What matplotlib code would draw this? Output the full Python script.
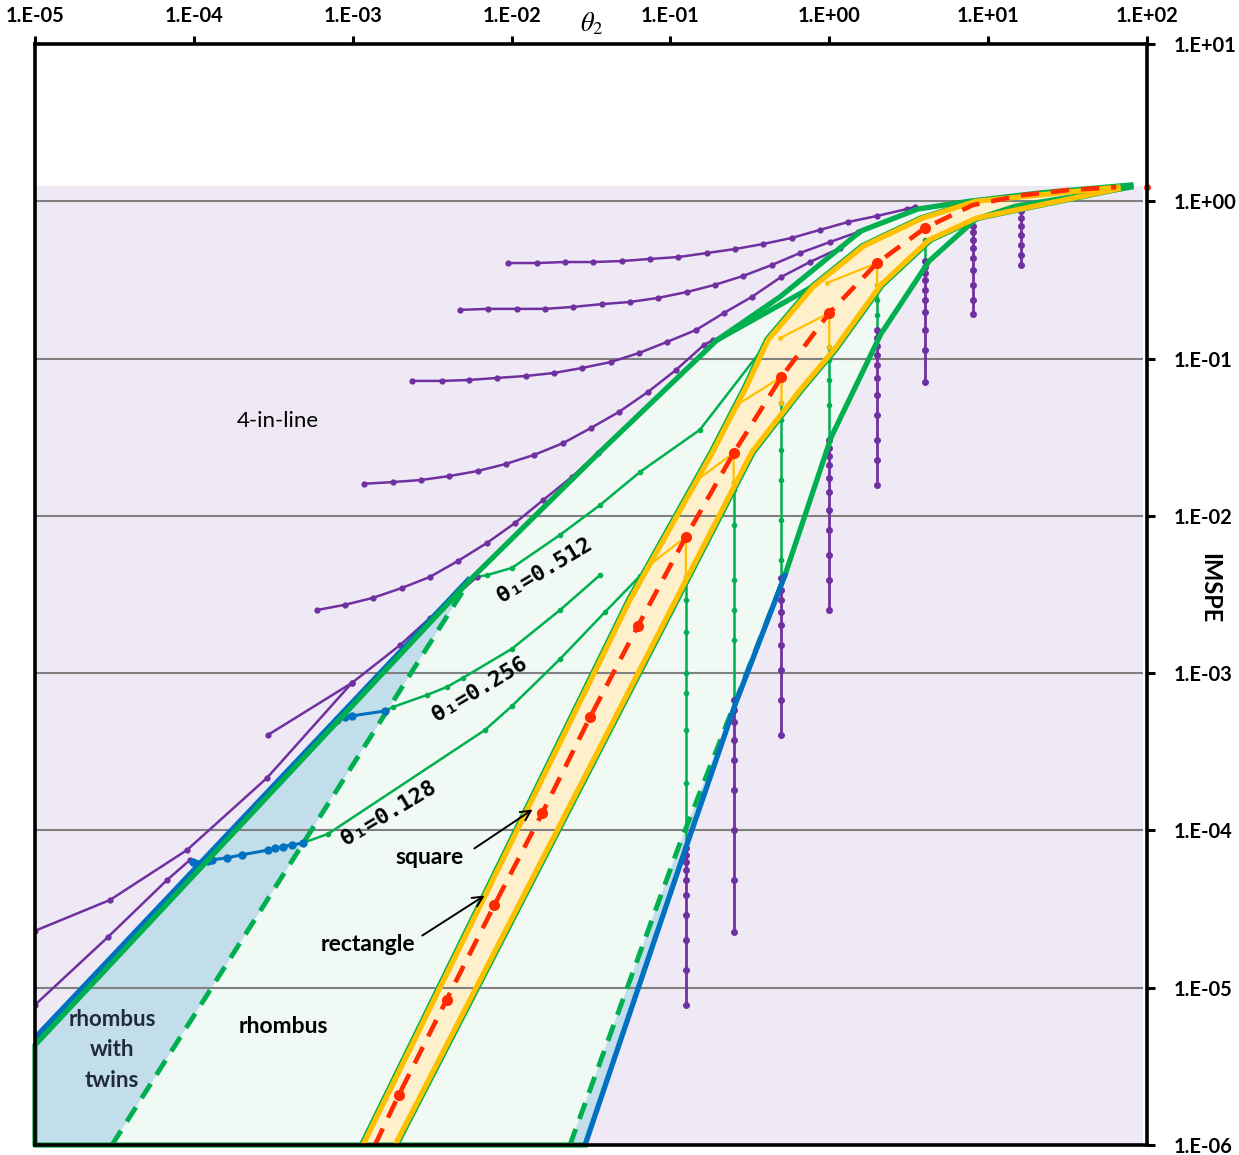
import numpy as np
import matplotlib
matplotlib.use("Agg")
import matplotlib.pyplot as plt
from matplotlib.ticker import FixedLocator, FuncFormatter, NullLocator
from matplotlib.transforms import offset_copy

plt.rcParams.update({
    "font.family": ["Lato", "DejaVu Sans"],
    "mathtext.fontset": "stix",
})

PURPLE = "#7030A0"
GREEN = "#00B050"
BLUE = "#0070C0"
ORANGE = "#FFC000"
RED = "#FF2A00"
BG = "#EFE9F5"
MINT = "#F0F9F4"
LBLUE = "#C3DEEB"
BAND = "#FFF0CC"
GRID = "#808080"

# ── region limits ─────────────────────────────────────────────
bg_x = [1e-5, 94.0]
bg_top = 1.25
ymin = 1e-6

# ── envelope lines (theta2, IMSPE) ────────────────────────────
upper_x = [0.029, 1e-5, 1e-5, 5.47e-3, 0.036, 0.196, 0.49, 1.58, 3.61, 7.57, 21.2, 79.3]
upper_y = [1e-6, 1e-6, 4.32e-6, 3.91e-3, 0.0255, 0.131, 0.247, 0.647, 0.893, 1.0, 1.13, 1.27]

# short extra boundary branch
branch_x = [0.196, 0.757]
branch_y = [0.131, 0.281]

right_green_x = [0.526, 1.03, 2.11, 4.25, 8.37, 15.0, 79.3]
right_green_y = [4.2e-3, 0.0318, 0.143, 0.417, 0.771, 0.933, 1.23]

right_blue_x = [0.029, 0.125, 0.255, 0.526]
right_blue_y = [1e-6, 7.75e-5, 6.28e-4, 4.2e-3]

left_blue_x = [1e-5, 5.47e-3]
left_blue_y = [4.8e-6, 4.03e-3]

dash_left_x = [3.05e-5, 5.47e-3]
dash_left_y = [1e-6, 3.91e-3]

dash_right_x = [0.0233, 0.112, 0.526]
dash_right_y = [1e-6, 7.75e-5, 4.2e-3]

# ── square / rectangle band ───────────────────────────────────
band_left_x = [1.16e-3, 0.0556, 0.183, 0.30, 0.411, 0.789, 1.65, 3.84, 8.37, 65.6]
band_left_y = [1e-6, 2.92e-3, 0.0251, 0.066, 0.131, 0.285, 0.52, 0.78, 1.0, 1.23]
band_right_x = [1.85e-3, 0.326, 0.654, 1.08, 2.11, 4.25, 8.37, 65.6]
band_right_y = [1e-6, 0.0255, 0.063, 0.115, 0.294, 0.568, 0.78, 1.2]

square_x = [1.38e-3, 0.00195, 0.0039, 0.0078, 0.0156, 0.03125, 0.0625, 0.125,
            0.25, 0.5, 1.0, 2.0, 4.0, 8.0, 16.0, 32.0, 64.0]
square_y = [1e-6, 2.08e-6, 8.4e-6, 3.36e-5, 1.29e-4, 5.27e-4, 2.0e-3, 7.34e-3,
            0.0251, 0.0764, 0.195, 0.405, 0.676, 0.946, 1.09, 1.18, 1.23]
square_dot_x = square_x[1:13]
square_dot_y = square_y[1:13]
square_end = (100.0, 1.23)

zig_x = [[0.0711, 0.125, 0.125], [0.147, 0.25, 0.25], [0.262, 0.5, 0.5],
         [0.49, 1.0, 1.0], [0.97, 2.0, 2.0]]
zig_y = [[4.73e-3, 7.34e-3, 4.09e-3], [0.0169, 0.0251, 0.0162], [0.0507, 0.0764, 0.0523],
         [0.135, 0.195, 0.119], [0.303, 0.405, 0.294]]

# ── theta1 curves ─────────────────────────────────────────────
t128_blue_x = [9.9e-5, 1.23e-4, 1.30e-4, 1.62e-4, 2.01e-4, 2.93e-4, 3.24e-4, 3.64e-4, 4.15e-4, 4.86e-4]
t128_blue_y = [6.3e-5, 6.4e-5, 6.5e-5, 6.7e-5, 7.0e-5, 7.5e-5, 7.7e-5, 7.9e-5, 8.1e-5, 8.3e-5]
t256_blue_x = [7.96e-4, 8.94e-4, 9.89e-4, 1.6e-3]
t256_blue_y = [5.04e-4, 5.27e-4, 5.35e-4, 5.75e-4]

t128_x = [4.86e-4, 6.98e-4, 6.8e-3, 0.01007, 0.0202, 0.0388, 0.0643]
t128_y = [8.33e-5, 9.5e-5, 4.35e-4, 6.19e-4, 1.23e-3, 2.45e-3, 4.15e-3]
t256_x = [1.6e-3, 1.79e-3, 2.94e-3, 3.92e-3, 4.94e-3, 0.01007, 0.0202, 0.036]
t256_y = [5.75e-4, 6.09e-4, 7.27e-4, 8.17e-4, 9.33e-4, 1.43e-3, 2.52e-3, 4.2e-3]
t512_x = [6.05e-3, 7.0e-3, 0.01007, 0.0202, 0.036, 0.0643, 0.153, 0.366]
t512_y = [4.09e-3, 4.2e-3, 4.67e-3, 7.57e-3, 0.0117, 0.019, 0.0352, 0.110]

# ── 4-in-line curves ──────────────────────────────────────────
line_a_x = [9.49e-3, 0.01445, 0.0217, 0.0326, 0.0496, 0.0743, 0.1117, 0.170, 0.255,
            0.383, 0.581, 0.873, 1.31, 2.0, 3.08, 3.46]
line_a_y = [0.405, 0.405, 0.411, 0.411, 0.417, 0.430, 0.442, 0.469, 0.497,
            0.535, 0.585, 0.658, 0.738, 0.807, 0.893, 0.920]
line_b_x = [4.73e-3, 7.11e-3, 0.0108, 0.0162, 0.0244, 0.0371, 0.0556, 0.0835, 0.127,
            0.19, 0.286, 0.436, 0.654, 1.01, 1.52]
line_b_y = [0.204, 0.207, 0.207, 0.207, 0.213, 0.222, 0.229, 0.243, 0.265,
            0.294, 0.335, 0.394, 0.469, 0.551, 0.638]
line_c_x = [2.36e-3, 3.65e-3, 5.39e-3, 8.09e-3, 0.0123, 0.0185, 0.0277, 0.0422, 0.0634,
            0.0951, 0.145, 0.217, 0.326, 0.497, 0.755, 1.17]
line_c_y = [0.0721, 0.0721, 0.0731, 0.0753, 0.0775, 0.0810, 0.0871, 0.0951, 0.1085,
            0.1276, 0.152, 0.195, 0.247, 0.330, 0.411, 0.505]
line_d_x = [1.18e-3, 1.79e-3, 2.69e-3, 4.04e-3, 6.15e-3, 9.23e-3, 0.01384, 0.0211, 0.0316,
            0.0474, 0.0723, 0.1084, 0.1625, 0.185]
line_d_y = [0.0160, 0.0164, 0.0169, 0.0179, 0.0193, 0.0214, 0.0244, 0.0290, 0.0362,
            0.0458, 0.0614, 0.0847, 0.122, 0.131]
line_e_x = [5.96e-4, 8.94e-4, 1.34e-3, 2.04e-3, 3.06e-3, 4.6e-3, 7.0e-3, 0.0105, 0.0158, 0.024, 0.035]
line_e_y = [2.52e-3, 2.72e-3, 3.01e-3, 3.48e-3, 4.09e-3, 5.17e-3, 6.73e-3, 9.0e-3, 0.0126, 0.0177, 0.0251]
line_f_x = [2.93e-4, 9.89e-4]
line_f_y = [4.05e-4, 8.67e-4]
line_g_x = [1e-5, 2.96e-5, 9.06e-5, 2.89e-4, 9.89e-4, 1.99e-3, 3.06e-3, 6.05e-3]
line_g_y = [2.3e-5, 3.61e-5, 7.51e-5, 2.16e-4, 8.67e-4, 1.51e-3, 2.24e-3, 4.09e-3]
line_h_x = [1e-5, 2.88e-5, 6.78e-5, 9.46e-5]
line_h_y = [7.78e-6, 2.1e-5, 4.84e-5, 6.49e-5]

# ── vertical sections at fixed theta2 ─────────────────────────
vert_theta2 = [0.125, 0.25, 0.5, 1.0, 2.0, 4.0, 8.0, 16.0]
vert_green = [
    [4.09e-3, 3.91e-3, 2.92e-3, 1.83e-3, 1.0e-3, 7.48e-4, 4.35e-4, 2.0e-4, 7.75e-5],
    [0.0162, 0.0146, 8.75e-3, 3.91e-3, 2.52e-3, 1.63e-3, 6.76e-4],
    [0.0523, 0.0407, 0.0263, 0.0169, 9.42e-3, 5.25e-3, 4.03e-3],
    [0.119, 0.098, 0.0731, 0.0507, 0.0304],
    [0.294, 0.236, 0.189, 0.152],
    [0.568, 0.417],
    [],
    [],
]
vert_purple = [
    [7.75e-5, 6.98e-5, 6.31e-5, 5.61e-5, 4.84e-5, 3.89e-5, 2.9e-5, 2.01e-5, 1.3e-5, 7.78e-6],
    [6.76e-4, 5.83e-4, 4.89e-4, 3.76e-4, 2.81e-4, 1.81e-4, 1.01e-4, 4.84e-5, 2.26e-5],
    [4.03e-3, 3.38e-3, 2.92e-3, 2.45e-3, 2.02e-3, 1.51e-3, 1.05e-3, 6.76e-4, 4.05e-4],
    [0.0304, 0.0270, 0.0240, 0.0211, 0.0174, 0.0142, 0.0109, 8.13e-3, 5.64e-3, 3.91e-3, 2.52e-3],
    [0.152, 0.135, 0.120, 0.105, 0.091, 0.0753, 0.0587, 0.0438, 0.0304, 0.0226, 0.0157],
    [0.417, 0.382, 0.35, 0.316, 0.273, 0.236, 0.198, 0.152, 0.1135, 0.071],
    [0.697, 0.638, 0.568, 0.505, 0.436, 0.366, 0.294, 0.236, 0.192],
    [0.867, 0.783, 0.697, 0.611, 0.527, 0.456, 0.394],
]

grid_levels = [1e0, 1e-1, 1e-2, 1e-3, 1e-4, 1e-5]
x_ticks = [1e-5, 1e-4, 1e-3, 1e-2, 1e-1, 1e0, 1e1, 1e2]
y_ticks = [1e-6, 1e-5, 1e-4, 1e-3, 1e-2, 1e-1, 1e0, 1e1]

# ── figure ────────────────────────────────────────────────────
fig = plt.figure(figsize=(12.39, 11.55), dpi=100)
ax = fig.add_axes([35 / 1239, 10 / 1155, 1112 / 1239, 1101 / 1155])
ax.set_xscale("log")
ax.set_yscale("log")
ax.set_xlim(1e-5, 1e2)
ax.set_ylim(1e-6, 1e1)

# background (4-in-line region)
ax.fill_between(bg_x, ymin, bg_top, color=BG, lw=0, zorder=0)

# rhombus region (mint)
mint_x = dash_left_x + upper_x[4:] + right_green_x[::-1] + dash_right_x[::-1]
mint_y = dash_left_y + upper_y[4:] + right_green_y[::-1] + dash_right_y[::-1]
ax.fill(mint_x, mint_y, color=MINT, lw=0, zorder=1)

# rhombus with twins region (light blue)
tw_x = [1e-5, 1e-5, 5.47e-3] + dash_left_x[::-1]
tw_y = [1e-6, 4.32e-6, 3.91e-3] + dash_left_y[::-1]
ax.fill(tw_x, tw_y, color=LBLUE, lw=0, zorder=1)
ax.fill(dash_right_x + right_blue_x[::-1], dash_right_y + right_blue_y[::-1],
        color=LBLUE, lw=0, zorder=1)

# square / rectangle band
ax.fill(band_left_x + band_right_x[::-1], band_left_y + band_right_y[::-1],
        color=BAND, lw=0, zorder=1)

ax.hlines(grid_levels, bg_x[0], bg_x[1], color=GRID, lw=1.5, zorder=2)

# dashed boundaries
ax.plot(dash_left_x, dash_left_y, color=GREEN, lw=3.5, ls=(0, (3.5, 2.2)), zorder=3)
ax.plot(dash_right_x, dash_right_y, color=GREEN, lw=3.5, ls=(0, (3.5, 2.2)), zorder=3)

# theta1 lines
for xs, ys in [(t128_x, t128_y), (t256_x, t256_y), (t512_x, t512_y)]:
    ax.plot(xs, ys, "-o", color=GREEN, lw=1.8, ms=3, zorder=4)
for xs, ys in [(t128_blue_x, t128_blue_y), (t256_blue_x, t256_blue_y)]:
    ax.plot(xs, ys, "-o", color=BLUE, lw=2.2, ms=5, zorder=5)

# vertical sections
for t2, gy, py in zip(vert_theta2, vert_green, vert_purple):
    if gy:
        ax.plot([t2] * len(gy), gy, "-o", color=GREEN, lw=1.8, ms=3, zorder=4)
    ax.plot([t2] * len(py), py, "-o", color=PURPLE, lw=2.0, ms=4, zorder=4)

# 4-in-line curves
for xs, ys in [(line_a_x, line_a_y), (line_b_x, line_b_y), (line_c_x, line_c_y),
               (line_d_x, line_d_y), (line_e_x, line_e_y), (line_f_x, line_f_y),
               (line_g_x, line_g_y), (line_h_x, line_h_y)]:
    ax.plot(xs, ys, "-o", color=PURPLE, lw=1.8, ms=3.5, zorder=4)

# envelope
ax.plot(left_blue_x, left_blue_y, color=BLUE, lw=3.8, zorder=5, solid_capstyle="butt")
ax.plot(upper_x, upper_y, color=GREEN, lw=3.8, zorder=6, clip_on=False)
ax.plot(branch_x, branch_y, color=GREEN, lw=3.8, zorder=6)
ax.plot(right_green_x, right_green_y, color=GREEN, lw=3.8, zorder=6)
ax.plot(right_blue_x, right_blue_y, color=BLUE, lw=3.8, zorder=6)

# band edges
tl = offset_copy(ax.transData, fig=fig, x=-2.5, y=1.5, units="dots")
tr = offset_copy(ax.transData, fig=fig, x=2.5, y=-1.5, units="dots")
ax.plot(band_left_x, band_left_y, color=GREEN, lw=1.6, transform=tl, zorder=6)
ax.plot(band_right_x, band_right_y, color=GREEN, lw=1.6, transform=tr, zorder=6)
ax.plot(band_left_x, band_left_y, color=ORANGE, lw=3.8, zorder=7)
ax.plot(band_right_x, band_right_y, color=ORANGE, lw=3.8, zorder=7)
for xs, ys in zip(zig_x, zig_y):
    ax.plot(xs, ys, "-o", color=ORANGE, lw=1.6, ms=2.5, zorder=7)

ax.plot(square_x, square_y, color=RED, lw=3.3, ls=(0, (4, 2.6)), zorder=8)
ax.plot(square_dot_x, square_dot_y, "o", color=RED, ms=7, zorder=8)
ax.plot(*square_end, "o", color=RED, ms=4, zorder=8, clip_on=False)

# ── text ──────────────────────────────────────────────────────
ax.text(3.39e-4, 0.0401, "4-in-line", fontsize=16, ha="center", va="center", zorder=9)
ax.text(3.05e-5, 4.03e-6, "rhombus\nwith\ntwins", fontsize=16, fontweight="bold",
        color="#1F2A3A", ha="center", va="center", linespacing=1.55, zorder=9)
ax.text(3.64e-4, 5.64e-6, "rhombus", fontsize=16.5, fontweight="bold",
        ha="center", va="center", zorder=9)
ax.text(3.06e-3, 6.68e-5, "square", fontsize=16.5, fontweight="bold",
        ha="center", va="center", zorder=9)
ax.text(1.25e-3, 1.87e-5, "rectangle", fontsize=16.5, fontweight="bold",
        ha="center", va="center", zorder=9)
ax.annotate("", xy=(0.01403, 1.39e-4), xytext=(5.64e-3, 7.51e-5),
            arrowprops=dict(arrowstyle="->", color="black", lw=1.4, mutation_scale=18), zorder=9)
ax.annotate("", xy=(7.0e-3, 3.94e-5), xytext=(2.65e-3, 2.1e-5),
            arrowprops=dict(arrowstyle="->", color="black", lw=1.4, mutation_scale=18), zorder=9)

theta_labels = ["θ₁=0.512", "θ₁=0.256", "θ₁=0.128"]
theta_lab_x = [0.0162, 6.32e-3, 1.69e-3]
theta_lab_y = [4.53e-3, 7.94e-4, 1.29e-4]
for s, lx, ly in zip(theta_labels, theta_lab_x, theta_lab_y):
    ax.text(lx, ly, s, fontsize=16, fontweight="bold", family=["DejaVu Sans Mono"],
            rotation=31, ha="center", va="center", zorder=9)

# ── axes styling ──────────────────────────────────────────────
ax.xaxis.tick_top()
ax.yaxis.tick_right()
fmt = FuncFormatter(lambda v, p: "1.E{}{:02d}".format("+" if round(np.log10(v)) >= 0 else "-",
                                                    abs(int(round(np.log10(v))))))
ax.xaxis.set_major_locator(FixedLocator(x_ticks))
ax.yaxis.set_major_locator(FixedLocator(y_ticks))
ax.xaxis.set_minor_locator(NullLocator())
ax.yaxis.set_minor_locator(NullLocator())
ax.xaxis.set_major_formatter(fmt)
ax.yaxis.set_major_formatter(fmt)
ax.tick_params(axis="both", which="major", direction="out", length=6, width=2.2,
               labelsize=14.5, pad=7)
ax.tick_params(axis="y", pad=13)
for lab in ax.get_xticklabels() + ax.get_yticklabels():
    lab.set_fontweight("bold")
for sp in ax.spines.values():
    sp.set_linewidth(2.6)
    sp.set_color("black")
    sp.set_zorder(10)

fig.text(592 / 1239, 1 - 24 / 1155, r"$\theta_2$", fontsize=19, ha="center", va="center")
fig.text(1210 / 1239, 1 - 588 / 1155, "IMSPE", fontsize=17, fontweight="bold",
         rotation=-90, ha="center", va="center")

fig.savefig("out.png", dpi=100)
